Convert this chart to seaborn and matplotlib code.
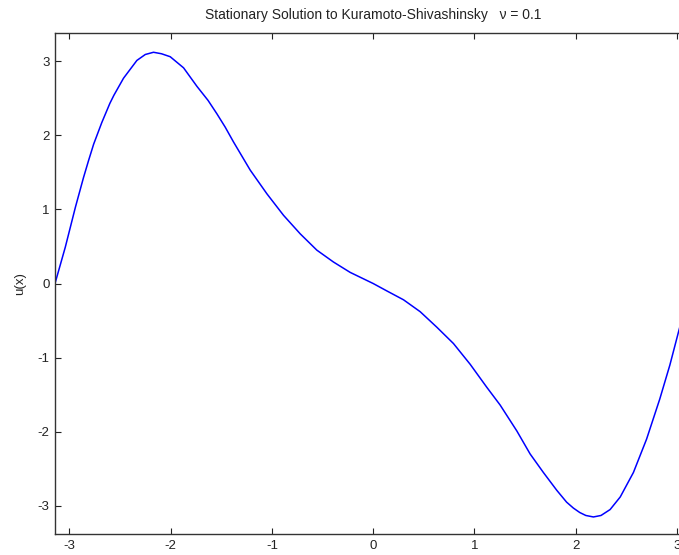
import matplotlib
matplotlib.use("Agg")
import matplotlib.pyplot as plt
import seaborn as sns
import pandas as pd

# values
x_vals = [-3.1416, -3.04, -2.99, -2.94, -2.86, -2.81, -2.76, -2.68, -2.60, -2.56,
          -2.465, -2.333, -2.25, -2.169, -2.09, -2.004, -1.872, -1.74, -1.63, -1.543,
          -1.461, -1.379, -1.214, -1.049, -0.885, -0.72, -0.556, -0.392, -0.227, 0.0,
          0.135, 0.30, 0.464, 0.629, 0.793, 0.958, 1.122, 1.254, 1.32, 1.419,
          1.55, 1.681, 1.747, 1.813, 1.91, 1.977, 2.04, 2.10, 2.175, 2.25,
          2.34, 2.44, 2.57, 2.70, 2.83, 2.93, 3.014, 3.1416]
u_vals = [0.0, 0.49, 0.76, 1.03, 1.43, 1.66, 1.88, 2.17, 2.43, 2.54,
          2.77, 3.01, 3.09, 3.12, 3.10, 3.06, 2.91, 2.66, 2.47, 2.29,
          2.11, 1.91, 1.53, 1.21, 0.92, 0.67, 0.45, 0.29, 0.15, 0.0,
          -0.10, -0.22, -0.38, -0.59, -0.81, -1.09, -1.40, -1.64, -1.78, -1.99,
          -2.30, -2.55, -2.67, -2.79, -2.95, -3.03, -3.09, -3.13, -3.15, -3.13,
          -3.05, -2.88, -2.55, -2.10, -1.56, -1.10, -0.66, 0.0]
x_ticks = [-3, -2, -1, 0, 1, 2, 3]
y_ticks = [-3, -2, -1, 0, 1, 2, 3]
title_text = "Stationary Solution to Kuramoto-Shivashinsky   \u03bd = 0.1"
y_label = "u(x)"

sns.set_style("ticks")
plt.rcParams['font.family'] = ['Liberation Sans', 'DejaVu Sans']

df = pd.DataFrame({"x": x_vals, "u": u_vals})

fig = plt.figure(figsize=(6.79, 5.55), dpi=100)
ax = fig.add_axes([55/679, 21/555, (691.3-55)/679, 501/555])
sns.lineplot(data=df, x="x", y="u", ax=ax, color=(0, 0, 1), linewidth=1.1, sort=False)

ax.set_xlim(-3.1416, 3.1416)
ax.set_ylim(-3.38, 3.38)
ax.set_xticks(x_ticks)
ax.set_yticks(y_ticks)
ax.set_xticklabels([str(t) for t in x_ticks])
ax.set_yticklabels([str(t) for t in y_ticks])
ax.tick_params(direction='in', length=4.5, width=0.8, top=True, right=True,
               labelsize=9.5, colors='#222222', labelcolor='#222222', pad=4)
for s in ax.spines.values():
    s.set_visible(True)
    s.set_linewidth(1.0)
    s.set_color('#333333')
ax.set_xlabel("")
ax.set_ylabel(y_label, fontsize=9.5, labelpad=8, color='#222222')
ax.set_title(title_text, fontsize=10, pad=10, color='#222222')

fig.savefig("out.png", dpi=100)
